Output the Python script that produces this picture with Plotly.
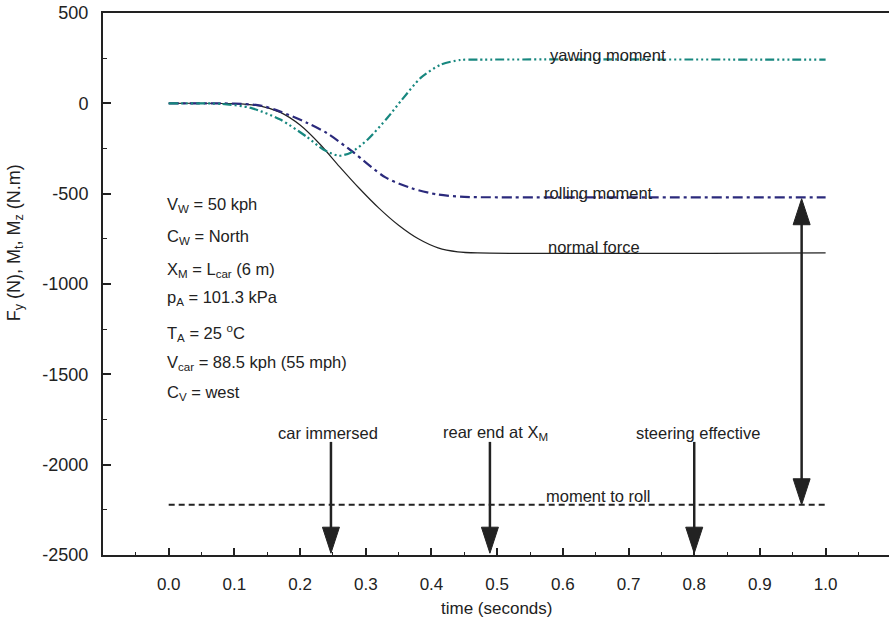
import plotly.graph_objects as go

# ---------------- data ----------------
t_normal = [0, 0.10, 0.14, 0.17, 0.20, 0.23, 0.26, 0.29, 0.32, 0.35, 0.38, 0.41, 0.44, 0.47, 1.0]
normal_force = [0, -2, -15, -50, -120, -225, -350, -470, -580, -675, -750, -800, -822, -828, -828]

t_rolling = [0, 0.10, 0.14, 0.17, 0.21, 0.24, 0.28, 0.33, 0.37, 0.41, 0.45, 0.50, 1.0]
rolling_moment = [0, -2, -12, -46, -107, -163, -268, -410, -470, -505, -518, -520, -520]

t_yawing = [0, 0.08, 0.125, 0.17, 0.21, 0.236, 0.259, 0.277, 0.303, 0.333, 0.355, 0.384, 0.414, 0.444, 0.47, 1.0]
yawing_moment = [0, -3, -25, -90, -185, -257, -290, -273, -200, -80, 20, 142, 214, 240, 242, 242]

t_roll_limit = [0, 1.0]
moment_to_roll = [-2222, -2222]

event_times = [0.247, 0.489, 0.80]
event_labels = ["car immersed", "rear end at X<sub>M</sub>", "steering effective"]
event_label_t = [0.242, 0.498, 0.805]

x_tickvals = [0.0, 0.1, 0.2, 0.3, 0.4, 0.5, 0.6, 0.7, 0.8, 0.9, 1.0]
x_ticktext = ["0.0", "0.1", "0.2", "0.3", "0.4", "0.5", "0.6", "0.7", "0.8", "0.9", "1.0"]
y_tickvals = [500, 0, -500, -1000, -1500, -2000, -2500]
y_ticktext = ["500", "0", "-500", "-1000", "-1500", "-2000", "-2500"]

conditions = [
    "V<sub>W</sub> = 50 kph",
    "C<sub>W</sub> = North",
    "X<sub>M</sub> = L<sub>car</sub> (6 m)",
    "p<sub>A</sub> = 101.3 kPa",
    "T<sub>A</sub> = 25 <sup>o</sup>C",
    "V<sub>car</sub> = 88.5 kph (55 mph)",
    "C<sub>V</sub> = west",
]
condition_y = [-561, -738, -921, -1076, -1270, -1436, -1602]

# ---------------- styling ----------------
FONT = "Liberation Sans, Arial, sans-serif"
INK = "#222222"
TEAL = "#17877f"
NAVY = "#2b2a7c"
TXT = 16.5

fig = go.Figure()
fig.add_trace(go.Scatter(x=t_normal, y=normal_force, mode="lines",
                         line=dict(color=INK, width=1.2, shape="spline", smoothing=0.8)))
fig.add_trace(go.Scatter(x=t_rolling, y=rolling_moment, mode="lines",
                         line=dict(color=NAVY, width=2.2, shape="spline", smoothing=0.8,
                                   dash="10px,4px,3px,4px")))
fig.add_trace(go.Scatter(x=t_yawing, y=yawing_moment, mode="lines",
                         line=dict(color=TEAL, width=2.2, shape="spline", smoothing=0.7,
                                   dash="9px,3px,2px,3px,2px,3px,2px,3px")))
fig.add_trace(go.Scatter(x=t_roll_limit, y=moment_to_roll, mode="lines",
                         line=dict(color=INK, width=2, dash="6px,4px")))

shapes = []
annotations = []

HEAD_W = 8.5
HEAD_H = 26
shaft_top = -1874
shaft_tip = -2490

def head(x, y, down=True):
    s = 1 if down else -1
    return dict(type="path", xref="x", yref="y", xsizemode="pixel", ysizemode="pixel",
                xanchor=x, yanchor=y,
                path=f"M 0,0 L {-HEAD_W},{s*HEAD_H} L {HEAD_W},{s*HEAD_H} Z",
                fillcolor=INK, line=dict(color=INK, width=1), layer="above")

for t, lab, lt in zip(event_times, event_labels, event_label_t):
    shapes.append(dict(type="line", xref="x", yref="y", x0=t, x1=t, y0=shaft_top, y1=shaft_tip + 60,
                       line=dict(color=INK, width=2.5)))
    shapes.append(head(t, shaft_tip, down=True))
    annotations.append(dict(x=lt, y=-1824, xref="x", yref="y", text=lab, showarrow=False,
                            font=dict(family=FONT, size=TXT, color=INK), xanchor="center", yanchor="middle"))

# double arrow between rolling moment and moment to roll
x_da = 0.9635
top_v = rolling_moment[-1]
bot_v = moment_to_roll[-1]
shapes.append(dict(type="line", xref="x", yref="y", x0=x_da, x1=x_da, y0=top_v - 60, y1=bot_v + 60,
                   line=dict(color=INK, width=2.5)))
shapes.append(head(x_da, top_v - 8, down=False))
shapes.append(head(x_da, bot_v, down=True))

# line labels
line_labels = [("yawing moment", 0.668, 270), ("rolling moment", 0.654, -496),
               ("normal force", 0.648, -794), ("moment to roll", 0.654, -2172)]
for txt, lx, ly in line_labels:
    annotations.append(dict(x=lx, y=ly, xref="x", yref="y", text=txt, showarrow=False,
                            font=dict(family=FONT, size=TXT, color=INK), xanchor="center", yanchor="middle"))

for txt, cy in zip(conditions, condition_y):
    annotations.append(dict(x=-0.005, y=cy, xref="x", yref="y", text=txt, showarrow=False,
                            font=dict(family=FONT, size=TXT, color=INK), xanchor="left", yanchor="middle"))

# axis titles
annotations.append(dict(x=-0.112, y=0.577, xref="paper", yref="paper",
                        text="F<sub>y</sub> (N), M<sub>t</sub>, M<sub>z</sub> (N.m)",
                        textangle=-90, showarrow=False, xanchor="center", yanchor="middle",
                        font=dict(family=FONT, size=18, color=INK)))
annotations.append(dict(x=0.5, y=-0.098, xref="paper", yref="paper", text="time (seconds)",
                        showarrow=False, xanchor="center", yanchor="middle",
                        font=dict(family=FONT, size=17, color=INK)))

fig.update_layout(
    width=889, height=625,
    margin=dict(l=103, r=0, t=13, b=70),
    paper_bgcolor="white", plot_bgcolor="white",
    showlegend=False,
    shapes=shapes, annotations=annotations,
    font=dict(family=FONT, color=INK),
    xaxis=dict(range=[-0.1, 1.0965], showgrid=False, zeroline=False,
               showline=True, linecolor=INK, linewidth=2, mirror=True,
               ticks="inside", ticklen=7, tickwidth=1.5, tickcolor=INK,
               tickvals=x_tickvals, ticktext=x_ticktext,
               tickfont=dict(family=FONT, size=17, color=INK), ticklabelstandoff=13,
               minor=dict(ticks="inside", ticklen=3, tickwidth=1, tickcolor=INK, dtick=0.05, tick0=0, showgrid=False)),
    yaxis=dict(range=[-2500, 500], showgrid=False, zeroline=False,
               showline=True, linecolor=INK, linewidth=2,
               ticks="inside", ticklen=8, tickwidth=1.5, tickcolor=INK,
               tickvals=y_tickvals, ticktext=y_ticktext,
               tickfont=dict(family=FONT, size=18, color=INK), ticklabelstandoff=9,
               minor=dict(ticks="inside", ticklen=4, tickwidth=1, tickcolor=INK, dtick=250, tick0=0, showgrid=False)),
)

fig.write_html("out.html", config={"displayModeBar": False},
               post_script="document.body.style.margin='0px';document.body.style.overflow='hidden';")
